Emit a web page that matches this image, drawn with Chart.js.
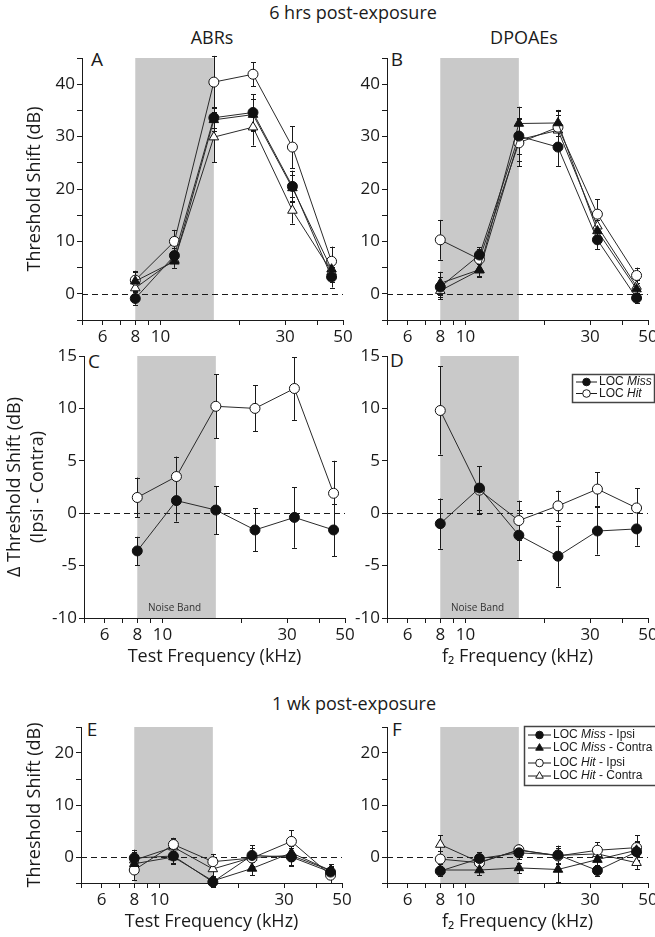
<!DOCTYPE html>
<html><head><meta charset="utf-8">
<script src="https://cdn.jsdelivr.net/npm/chart.js@4.4.0/dist/chart.umd.min.js"></script>
<style>
html,body{margin:0;padding:0;background:#fff;}
#fig{position:relative;width:655px;height:937px;overflow:hidden;font-family:"Open Sans",sans-serif;color:#1a1a1a;}
canvas{position:absolute;}
.t{position:absolute;transform:translate(-50%,-50%);white-space:nowrap;font-size:18px;line-height:1;}
.p{font-size:19px;}
</style></head><body><div id="fig">
<div class="t" style="left:353px;top:12px">6 hrs post-exposure</div>
<div class="t" style="left:212px;top:37px">ABRs</div>
<div class="t" style="left:524px;top:37px">DPOAEs</div>
<div class="t" style="left:354px;top:703px">1 wk post-exposure</div>
<div class="t p" style="left:97px;top:59px">A</div>
<div class="t p" style="left:397px;top:59px">B</div>
<div class="t p" style="left:94px;top:361px">C</div>
<div class="t p" style="left:397px;top:360px">D</div>
<div class="t p" style="left:92px;top:729px">E</div>
<div class="t p" style="left:397px;top:729px">F</div>
</div>
<script>
// ---------- data ----------
const freqKHz = [8, 11.3, 16, 22.6, 32, 45.2];
const xTickValues = [5, 6, 7, 8, 9, 10, 20, 30, 40, 50];
const xTickLabels = [6, 8, 10, 30, 50];
const noiseBand = [8, 16];

// Panel A: ABRs, 6 hrs
const A_missIpsi   = [-0.9, 7.3, 33.6, 34.6, 20.5, 3.2];
const A_missContra = [2.4, 6.2, 33.2, 34.2, 20.2, 4.7];
const A_hitIpsi    = [2.6, 10.0, 40.4, 41.9, 28.0, 6.2];
const A_hitContra  = [1.1, 6.5, 29.9, 31.8, 15.9, 4.2];
const A_missIpsiErr   = [1.2, 1.5, 2.0, 3.5, 3.0, 2.0];
const A_missContraErr = [1.8, 1.2, 2.2, 3.0, 2.5, 2.0];
const A_hitIpsiErr    = [1.8, 2.2, 5.0, 2.3, 4.0, 2.8];
const A_hitContraErr  = [1.5, 1.5, 4.8, 3.5, 2.5, 2.0];

// Panel B: DPOAEs, 6 hrs
const B_missIpsi   = [1.3, 7.4, 30.1, 28.0, 10.3, -0.8];
const B_missContra = [2.0, 4.6, 32.5, 32.6, 12.0, 0.9];
const B_hitIpsi    = [10.3, 6.6, 28.8, 31.8, 15.2, 3.5];
const B_hitContra  = [0.6, 4.5, 29.4, 31.2, 12.9, 1.4];
const B_missIpsiErr   = [2.0, 1.5, 3.5, 3.6, 1.8, 1.0];
const B_missContraErr = [2.2, 1.2, 3.2, 2.5, 2.0, 1.2];
const B_hitIpsiErr    = [3.8, 2.0, 4.5, 3.0, 2.8, 1.5];
const B_hitContraErr  = [1.6, 1.2, 4.0, 3.0, 2.0, 1.2];

// Panel C: ABR delta (Ipsi - Contra)
const C_miss = [-3.6, 1.2, 0.3, -1.6, -0.4, -1.6];
const C_hit  = [1.5, 3.5, 10.2, 10.0, 11.9, 1.9];
const C_missErr = [1.35, 2.0, 2.3, 2.05, 2.9, 2.5];
const C_hitErr  = [1.9, 1.9, 3.05, 2.2, 3.0, 3.1];

// Panel D: DPOAE delta (Ipsi - Contra)
const D_miss = [-1.0, 2.4, -2.1, -4.1, -1.7, -1.5];
const D_hit  = [9.8, 2.2, -0.7, 0.7, 2.3, 0.5];
const D_missErr = [2.4, 2.1, 2.4, 2.9, 2.25, 1.6];
const D_hitErr  = [4.2, 2.3, 1.9, 1.45, 1.6, 1.9];

// Panel E: ABRs, 1 wk
const E_missIpsi   = [-0.2, 0.2, -4.8, 0.3, 0.0, -2.9];
const E_missContra = [-1.3, 0.0, -4.6, -2.2, 0.8, -2.6];
const E_hitIpsi    = [-2.5, 2.4, -0.9, -0.2, 3.0, -3.5];
const E_hitContra  = [-0.6, 1.9, -2.3, -0.1, 0.3, -2.6];
const E_missIpsiErr   = [1.6, 1.5, 1.0, 2.0, 1.8, 1.2];
const E_missContraErr = [1.5, 1.2, 1.0, 1.3, 1.5, 1.2];
const E_hitIpsiErr    = [2.0, 1.3, 1.5, 2.0, 2.1, 1.5];
const E_hitContraErr  = [1.5, 1.5, 1.5, 1.8, 1.8, 1.2];

// Panel F: DPOAEs, 1 wk
const F_missIpsi   = [-2.7, -0.3, 0.8, 0.4, -2.6, 1.0];
const F_missContra = [-2.5, -2.5, -2.1, -2.4, -0.5, 1.3];
const F_hitIpsi    = [-0.4, -1.1, 1.4, 0.2, 1.3, 1.8];
const F_hitContra  = [2.4, -1.0, 1.3, 0.3, 0.6, -1.1];
const F_missIpsiErr   = [1.0, 1.2, 1.2, 1.8, 1.0, 1.8];
const F_missContraErr = [1.2, 1.0, 1.0, 2.4, 1.2, 1.8];
const F_hitIpsiErr    = [1.5, 1.5, 1.0, 1.5, 1.5, 2.4];
const F_hitContraErr  = [1.8, 1.5, 1.0, 1.5, 1.2, 1.2];

const legendTwo = [
  [['LOC ', false], ['Miss', true]],
  [['LOC ', false], ['Hit', true]]
];
const legendFour = [
  [['LOC ', false], ['Miss', true], [' - Ipsi', false]],
  [['LOC ', false], ['Miss', true], [' - Contra', false]],
  [['LOC ', false], ['Hit', true], [' - Ipsi', false]],
  [['LOC ', false], ['Hit', true], [' - Contra', false]]
];

// ---------- drawing ----------
const INK = '#1a1a1a';
Chart.defaults.font.family = '"Open Sans", sans-serif';
Chart.defaults.color = INK;

function drawSym(ctx, style, filled, x, y, r) {
  ctx.beginPath();
  if (style === 'circle') ctx.arc(x, y, r, 0, Math.PI * 2);
  else { ctx.moveTo(x, y - r); ctx.lineTo(x + r * 0.866, y + r * 0.5); ctx.lineTo(x - r * 0.866, y + r * 0.5); ctx.closePath(); }
  ctx.fillStyle = filled ? '#111' : '#fff';
  ctx.fill(); ctx.stroke();
}

const decorPlugin = {
  id: 'decor',
  beforeDraw(chart, args, o) {
    const {ctx, chartArea: ca} = chart;
    const xs = chart.scales.x;
    const bx0 = xs.getPixelForValue(o.band[0]), bx1 = xs.getPixelForValue(o.band[1]);
    ctx.save();
    ctx.fillStyle = '#c9c9c9';
    ctx.fillRect(bx0, ca.top, bx1 - bx0, ca.bottom - ca.top);
    if (o.bandText) {
      ctx.fillStyle = '#333';
      ctx.font = '10px "Open Sans", sans-serif';
      ctx.textAlign = 'center'; ctx.textBaseline = 'middle';
      ctx.fillText(o.bandText, (bx0 + bx1) / 2 - 2, ca.bottom - 10);
    }
    ctx.restore();
  },
  beforeDatasetsDraw(chart, args, o) {
    const {ctx, chartArea: ca} = chart;
    const ys = chart.scales.y;
    ctx.save();
    ctx.strokeStyle = INK; ctx.lineWidth = 1;
    const zy = Math.round(ys.getPixelForValue(0)) + 0.5;
    ctx.setLineDash([6, 4]);
    ctx.beginPath(); ctx.moveTo(ca.left, zy); ctx.lineTo(ca.right, zy); ctx.stroke();
    ctx.setLineDash([]);
    chart.data.datasets.forEach((ds, i) => {
      const meta = chart.getDatasetMeta(i);
      meta.data.forEach((pt, j) => {
        const v = ds.data[j].y, e = ds.err[j];
        const yt = ys.getPixelForValue(v + e), yb = ys.getPixelForValue(v - e);
        const px = Math.round(pt.x) + 0.5;
        ctx.beginPath();
        ctx.moveTo(px, yt); ctx.lineTo(px, yb);
        ctx.moveTo(px - 2.5, Math.round(yt) + 0.5); ctx.lineTo(px + 2.5, Math.round(yt) + 0.5);
        ctx.moveTo(px - 2.5, Math.round(yb) + 0.5); ctx.lineTo(px + 2.5, Math.round(yb) + 0.5);
        ctx.stroke();
      });
    });
    ctx.restore();
  },
  afterDraw(chart, args, o) {
    const L = o.legend;
    if (!L) return;
    const {ctx, chartArea: ca} = chart;
    const bx = ca.right + L.dx, by = ca.top + L.dy;
    ctx.save();
    ctx.fillStyle = '#fff';
    ctx.fillRect(bx, by, L.w, L.h);
    ctx.strokeStyle = '#444'; ctx.lineWidth = 1.5;
    ctx.strokeRect(bx + 0.5, by + 0.5, L.w, L.h);
    ctx.lineWidth = 1; ctx.strokeStyle = INK;
    L.rows.forEach((row) => {
      const y = by + row.y;
      ctx.beginPath(); ctx.moveTo(bx + L.s0, y); ctx.lineTo(bx + L.s1, y); ctx.stroke();
      drawSym(ctx, row.style, row.filled, bx + (L.s0 + L.s1) / 2, y, row.style === 'circle' ? 3.8 : 4.4);
      let tx = bx + L.tx;
      ctx.fillStyle = INK; ctx.textBaseline = 'middle'; ctx.textAlign = 'left';
      row.parts.forEach(([txt, it]) => {
        ctx.font = (it ? 'italic ' : '') + L.fs + 'px "Liberation Sans", Arial, sans-serif';
        ctx.fillText(txt, tx, y);
        tx += ctx.measureText(txt).width;
      });
    });
    ctx.restore();
  }
};

const fig = document.getElementById('fig');

function series4(mi, mc, hi, hc, mie, mce, hie, hce) {
  return [
    {values: mi, err: mie, style: 'circle', filled: true},
    {values: mc, err: mce, style: 'triangle', filled: true},
    {values: hi, err: hie, style: 'circle', filled: false},
    {values: hc, err: hce, style: 'triangle', filled: false}
  ];
}

function makePanel(p) {
  const cv = document.createElement('canvas');
  cv.width = p.w; cv.height = p.h;
  cv.style.left = p.left + 'px'; cv.style.top = p.top + 'px';
  cv.style.width = p.w + 'px'; cv.style.height = p.h + 'px';
  fig.appendChild(cv);
  new Chart(cv, {
    type: 'line',
    data: {
      datasets: p.series.map(s => ({
        data: freqKHz.map((f, i) => ({x: f, y: s.values[i]})),
        err: s.err,
        borderColor: '#2a2a2a', borderWidth: 1,
        pointStyle: s.style,
        pointRadius: s.style === 'triangle' ? 5.5 : 5,
        pointBackgroundColor: s.filled ? '#111' : '#fff',
        pointBorderColor: '#111', pointBorderWidth: 1,
        clip: false, tension: 0, fill: false
      }))
    },
    options: {
      responsive: false, animation: false, events: [],
      layout: {padding: {top: p.padTop, right: p.padRight, left: 0, bottom: 0}},
      plugins: {
        legend: {display: false}, tooltip: {enabled: false},
        decor: {band: noiseBand, bandText: p.bandText, legend: p.legend}
      },
      scales: {
        x: {
          type: 'logarithmic', min: 5, max: 50, position: 'bottom',
          afterBuildTicks: s => { s.ticks = xTickValues.map(v => ({value: v})); },
          afterFit: s => { s.height = p.xH; s.paddingLeft = 0; s.paddingRight = 0; },
          ticks: {autoSkip: false, maxRotation: 0, padding: 2, color: INK, font: {size: 17},
                  callback: v => xTickLabels.includes(v) ? String(v) : ''},
          grid: {drawOnChartArea: false, drawTicks: true, tickLength: 5, color: INK},
          border: {display: true, color: INK, width: 1},
          title: p.xTitle ? {display: true, text: p.xTitle, color: INK,
                  font: {size: 18, lineHeight: 1.2}, padding: {top: 0, bottom: 0}} : {display: false}
        },
        y: {
          type: 'linear', min: p.yMin, max: p.yMax, position: 'left',
          afterBuildTicks: s => { s.ticks = p.yTicks.map(v => ({value: v})); },
          afterFit: s => { s.width = p.yW; s.paddingTop = 0; s.paddingBottom = 0; },
          ticks: {padding: 2, color: INK, font: {size: 17},
                  callback: v => p.yLabels.includes(v) ? String(v) : ''},
          grid: {drawOnChartArea: false, drawTicks: true, tickLength: 5, color: INK},
          border: {display: true, color: INK, width: 1},
          title: p.yTitle ? {display: true, text: p.yTitle, color: INK,
                  font: {size: 18, lineHeight: p.yTitleLH || 1.2}, padding: {top: p.yTitlePad, bottom: 0}} : {display: false}
        }
      }
    },
    plugins: [decorPlugin]
  });
}

const yTicksTop = [-5, 0, 5, 10, 15, 20, 25, 30, 35, 40, 45];
const yLabelsTop = [0, 10, 20, 30, 40];
const yTicksMid = [-10, -5, 0, 5, 10, 15];
const yTicksBot = [-5, 0, 5, 10, 15, 20, 25];
const yLabelsBot = [0, 10, 20];

const legendD = {dx: -76, dy: 18, w: 82, h: 28, s0: 4, s1: 25, tx: 27, fs: 12,
  rows: [
    {y: 8, style: 'circle', filled: true, parts: legendTwo[0]},
    {y: 19.5, style: 'circle', filled: false, parts: legendTwo[1]}
  ]};
const legendF = {dx: -124, dy: -1, w: 135, h: 59, s0: 4, s1: 27, tx: 29, fs: 12,
  rows: [
    {y: 9, style: 'circle', filled: true, parts: legendFour[0]},
    {y: 22, style: 'triangle', filled: true, parts: legendFour[1]},
    {y: 37, style: 'circle', filled: false, parts: legendFour[2]},
    {y: 50, style: 'triangle', filled: false, parts: legendFour[3]}
  ]};

// A
makePanel({left: 0, top: 40, w: 353, h: 310, yW: 82, padTop: 18, padRight: 10, xH: 30,
  yMin: -5, yMax: 45, yTicks: yTicksTop, yLabels: yLabelsTop,
  yTitle: 'Threshold Shift (dB)', yTitlePad: 24,
  series: series4(A_missIpsi, A_missContra, A_hitIpsi, A_hitContra, A_missIpsiErr, A_missContraErr, A_hitIpsiErr, A_hitContraErr)});
// B
makePanel({left: 337, top: 40, w: 318, h: 310, yW: 50, padTop: 18, padRight: 7, xH: 30,
  yMin: -5, yMax: 45, yTicks: yTicksTop, yLabels: yLabelsTop,
  series: series4(B_missIpsi, B_missContra, B_hitIpsi, B_hitContra, B_missIpsiErr, B_missContraErr, B_hitIpsiErr, B_hitContraErr)});
// C
makePanel({left: 0, top: 340, w: 355, h: 328, yW: 84, padTop: 16, padRight: 10, xH: 50,
  yMin: -10, yMax: 15, yTicks: yTicksMid, yLabels: yTicksMid,
  yTitle: ['\u0394 Threshold Shift (dB)', '(Ipsi - Contra)'], yTitlePad: 3, yTitleLH: 1.3,
  xTitle: 'Test Frequency (kHz)', bandText: 'Noise Band',
  series: [
    {values: C_miss, err: C_missErr, style: 'circle', filled: true},
    {values: C_hit, err: C_hitErr, style: 'circle', filled: false}
  ]});
// D
makePanel({left: 337, top: 340, w: 318, h: 328, yW: 50, padTop: 16, padRight: 7, xH: 50,
  yMin: -10, yMax: 15, yTicks: yTicksMid, yLabels: yTicksMid,
  xTitle: 'f\u2082 Frequency (kHz)', bandText: 'Noise Band', legend: legendD,
  series: [
    {values: D_miss, err: D_missErr, style: 'circle', filled: true},
    {values: D_hit, err: D_hitErr, style: 'circle', filled: false}
  ]});
// E
makePanel({left: 0, top: 710, w: 352, h: 223, yW: 81, padTop: 17, padRight: 10, xH: 50,
  yMin: -5, yMax: 25, yTicks: yTicksBot, yLabels: yLabelsBot,
  yTitle: 'Threshold Shift (dB)', yTitlePad: 24, xTitle: 'Test Frequency (kHz)',
  series: series4(E_missIpsi, E_missContra, E_hitIpsi, E_hitContra, E_missIpsiErr, E_missContraErr, E_hitIpsiErr, E_hitContraErr)});
// F
makePanel({left: 337, top: 710, w: 318, h: 223, yW: 50, padTop: 17, padRight: 7, xH: 50,
  yMin: -5, yMax: 25, yTicks: yTicksBot, yLabels: yLabelsBot,
  xTitle: 'f\u2082 Frequency (kHz)', legend: legendF,
  series: series4(F_missIpsi, F_missContra, F_hitIpsi, F_hitContra, F_missIpsiErr, F_missContraErr, F_hitIpsiErr, F_hitContraErr)});
</script>
</body></html>
